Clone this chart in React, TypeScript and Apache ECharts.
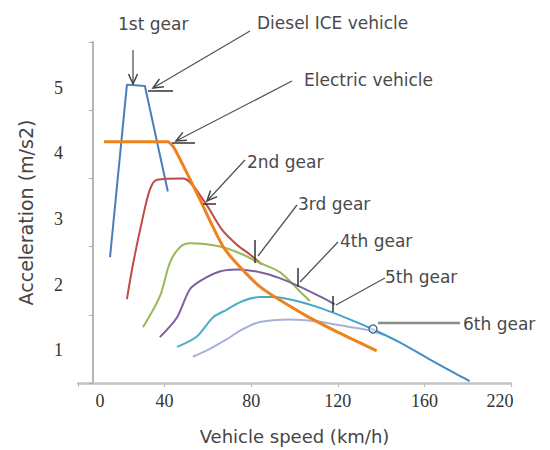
import React, { useEffect, useRef } from "react";
import * as echarts from "echarts";

// ---- data (vehicle speed km/h, acceleration m/s2) ----
const xTicks = [0, 40, 80, 120, 160, 200];
const xTickLabels = ["0", "40", "80", "120", "160", "220"];
const yTickLabels = ["1", "2", "3", "4", "5"];

const gear1 = [[14.8, 2.42], [22.6, 5.05], [30.9, 5.03], [41.5, 3.42]];
const gear2 = [[22.6, 1.78], [25.4, 2.31], [29.5, 2.96], [33.2, 3.45], [36.5, 3.6], [48.5, 3.62], [57.7, 3.3], [66.5, 2.84], [73.4, 2.61], [79.4, 2.46], [84.9, 2.31]];
const gear3 = [[30.0, 1.35], [37.8, 1.82], [42.5, 2.34], [47.1, 2.57], [51.7, 2.63], [65.5, 2.58], [76.1, 2.46], [82.6, 2.35], [93.2, 2.19], [102.4, 1.9], [107.1, 1.75]];
const gear4 = [[37.8, 1.2], [45.7, 1.5], [51.7, 1.93], [57.7, 2.08], [65.5, 2.2], [73.4, 2.23], [84.0, 2.19], [93.2, 2.1], [102.4, 1.97], [111.7, 1.82], [118.6, 1.7]];
const gear5 = [[45.7, 1.05], [54.9, 1.21], [62.3, 1.5], [68.8, 1.62], [76.1, 1.75], [84.0, 1.81], [90.0, 1.81], [101.1, 1.75], [113.1, 1.63], [125.5, 1.47], [136.1, 1.32], [148.6, 1.12], [162.4, 0.86], [174.0, 0.65], [180.9, 0.53]];
const gear6 = [[53.1, 0.9], [60.9, 1.02], [68.8, 1.17], [76.1, 1.32], [84.0, 1.43], [97.8, 1.47], [110.3, 1.44], [120.9, 1.38], [133.4, 1.31], [141.7, 1.23]];
const electric = [[12.0, 4.18], [41.5, 4.18], [44.8, 4.06], [56.3, 3.3], [67.8, 2.54], [84.0, 1.97], [105.7, 1.52], [120.9, 1.26], [138.0, 0.99]];

const annotationTexts = ["1st gear", "Diesel ICE vehicle", "Electric vehicle", "2nd gear", "3rd gear", "4th gear", "5th gear", "6th gear"];

// ---- annotation layout (pixels) ----
const textPos = [[118, 24], [257, 23], [304, 80], [247, 162], [298, 204], [340, 241], [385, 277], [463, 324]];
const arrows = [
  [133, 50, 133, 84],
  [250, 31, 153, 88],
  [292, 81, 176, 141],
  [245, 160, 207, 201],
];
const pointers = [
  [297, 205, 258, 256],
  [338, 242, 300, 282],
  [385, 278, 336, 305],
];
const shortTicks = [
  [148, 91, 173, 91],
  [172, 143, 195, 143],
  [203, 204, 216, 204],
  [255, 240, 255, 263],
  [298, 268, 298, 287],
  [333, 296, 333, 312],
];

const SANS = "DejaVu Sans";
const SERIF = "Liberation Serif";
const ANN = "#4a4a4a";

function arrowHead(x1: number, y1: number, x2: number, y2: number) {
  const a = Math.atan2(y2 - y1, x2 - x1);
  const len = 11;
  const spread = 0.42;
  const p1 = [x2 - len * Math.cos(a - spread), y2 - len * Math.sin(a - spread)];
  const p2 = [x2 - len * Math.cos(a + spread), y2 - len * Math.sin(a + spread)];
  return [p1, [x2, y2], p2];
}

export default function App() {
  const ref = useRef<HTMLDivElement>(null);
  useEffect(() => {
    if (!ref.current) return;
    const chart = echarts.init(ref.current, null, { renderer: "svg" });

    const graphics: any[] = [];
    annotationTexts.forEach((t, i) => {
      graphics.push({
        type: "text",
        x: textPos[i][0],
        y: textPos[i][1],
        z: 10,
        style: { text: t, font: `17px "${SANS}"`, fill: ANN, verticalAlign: "middle", align: "left" },
      });
    });
    arrows.forEach(([x1, y1, x2, y2]) => {
      graphics.push({ type: "line", z: 10, shape: { x1, y1, x2, y2 }, style: { stroke: "#555", lineWidth: 1.3 } });
      graphics.push({ type: "polyline", z: 10, shape: { points: arrowHead(x1, y1, x2, y2) }, style: { stroke: "#444", lineWidth: 1.5, fill: null } });
    });
    pointers.forEach(([x1, y1, x2, y2]) => {
      graphics.push({ type: "line", z: 10, shape: { x1, y1, x2, y2 }, style: { stroke: "#555", lineWidth: 1.3 } });
    });
    shortTicks.forEach(([x1, y1, x2, y2]) => {
      graphics.push({ type: "line", z: 10, shape: { x1, y1, x2, y2 }, style: { stroke: "#333", lineWidth: 1.5 } });
    });
    graphics.push({ type: "line", z: 10, shape: { x1: 460, y1: 323, x2: 378, y2: 323 }, style: { stroke: "#8a8a8a", lineWidth: 2.5 } });
    graphics.push({ type: "circle", z: 10, shape: { cx: 373, cy: 329, r: 4 }, style: { stroke: "#3d5a8a", lineWidth: 1.3, fill: "rgba(255,255,255,0.6)" } });

    const line = (name: string, data: number[][], color: any, width = 2, smooth: any = 0.3) => ({
      name,
      type: "line",
      data,
      showSymbol: false,
      smooth,
      lineStyle: { color, width },
      itemStyle: { color },
      xAxisIndex: 0,
      yAxisIndex: 0,
    });

    const gear5Color = new echarts.graphic.LinearGradient(0, 0, 1, 0, [
      { offset: 0, color: "#4db2c4" },
      { offset: 0.5, color: "#45a6cc" },
      { offset: 1, color: "#3f86c6" },
    ]);

    chart.setOption({
      animation: false,
      backgroundColor: "#ffffff",
      grid: { left: 78, right: 39, top: 42, bottom: 66 },
      xAxis: {
        type: "value",
        min: 0,
        max: 200,
        interval: 40,
        name: "Vehicle speed (km/h)",
        nameLocation: "middle",
        nameGap: 44,
        nameTextStyle: { fontFamily: SANS, fontSize: 18, color: "#444" },
        axisLine: { onZero: false, lineStyle: { color: "#c4c4c4", width: 2.5 } },
        axisTick: { show: true, length: 4, lineStyle: { color: "#bbb" } },
        splitLine: { show: false },
        axisLabel: {
          margin: 9,
          fontFamily: SERIF,
          fontSize: 18,
          color: "#333",
          showMinLabel: true,
          showMaxLabel: true,
          formatter: (v: number) => {
            const i = xTicks.indexOf(Math.round(v));
            if (i < 0) return "";
            const t = xTickLabels[i];
            if (i === 0) return `{first|${t}}`;
            if (i === xTicks.length - 1) return `{last|${t}}`;
            return t;
          },
          rich: {
            first: { padding: [0, 0, 0, 44], fontFamily: SERIF, fontSize: 18, color: "#333" },
            last: { padding: [0, 22, 0, 0], fontFamily: SERIF, fontSize: 18, color: "#333" },
          },
        },
      },
      yAxis: [
        {
          type: "value",
          min: 0.5,
          max: 5.7,
          interval: 0.5,
          position: "left",
          offset: -15,
          name: "Acceleration (m/s2)",
          nameLocation: "middle",
          nameGap: 58,
          nameTextStyle: { fontFamily: SANS, fontSize: 19, color: "#444" },
          axisLine: { show: true, onZero: false, lineStyle: { color: "#b5b5b5", width: 2 } },
          axisTick: { show: false },
          splitLine: { show: false },
          axisLabel: {
            margin: 30,
            fontFamily: SERIF,
            fontSize: 18,
            color: "#333",
            formatter: (v: number) => {
              const r = Math.round(v * 10) / 10;
              return yTickLabels.includes(String(r)) ? String(r) : "";
            },
          },
        },
        {
          type: "value",
          min: 0,
          max: 5,
          interval: 1,
          position: "left",
          offset: -15,
          axisLine: { show: false, onZero: false },
          axisTick: { show: true, length: 4, lineStyle: { color: "#aaa" } },
          axisLabel: { show: false },
          splitLine: { show: false },
        },
      ],
      series: [
        line("1st gear", gear1, "#4a7dbb", 2, false),
        line("2nd gear", gear2, "#be4b48", 2),
        line("3rd gear", gear3, "#98b954", 2),
        line("4th gear", gear4, "#7d60a0", 2),
        line("6th gear", gear6, "#a7b1dc", 2),
        line("5th gear", gear5, gear5Color, 2),
        line("Electric vehicle", electric, "#f0821e", 3, 0.2),
      ],
      graphic: graphics,
    });
    return () => chart.dispose();
  }, []);

  return (
    <div
      ref={ref}
      style={{ position: "absolute", left: 0, top: 0, width: 550, height: 450, background: "#fff" }}
    />
  );
}
